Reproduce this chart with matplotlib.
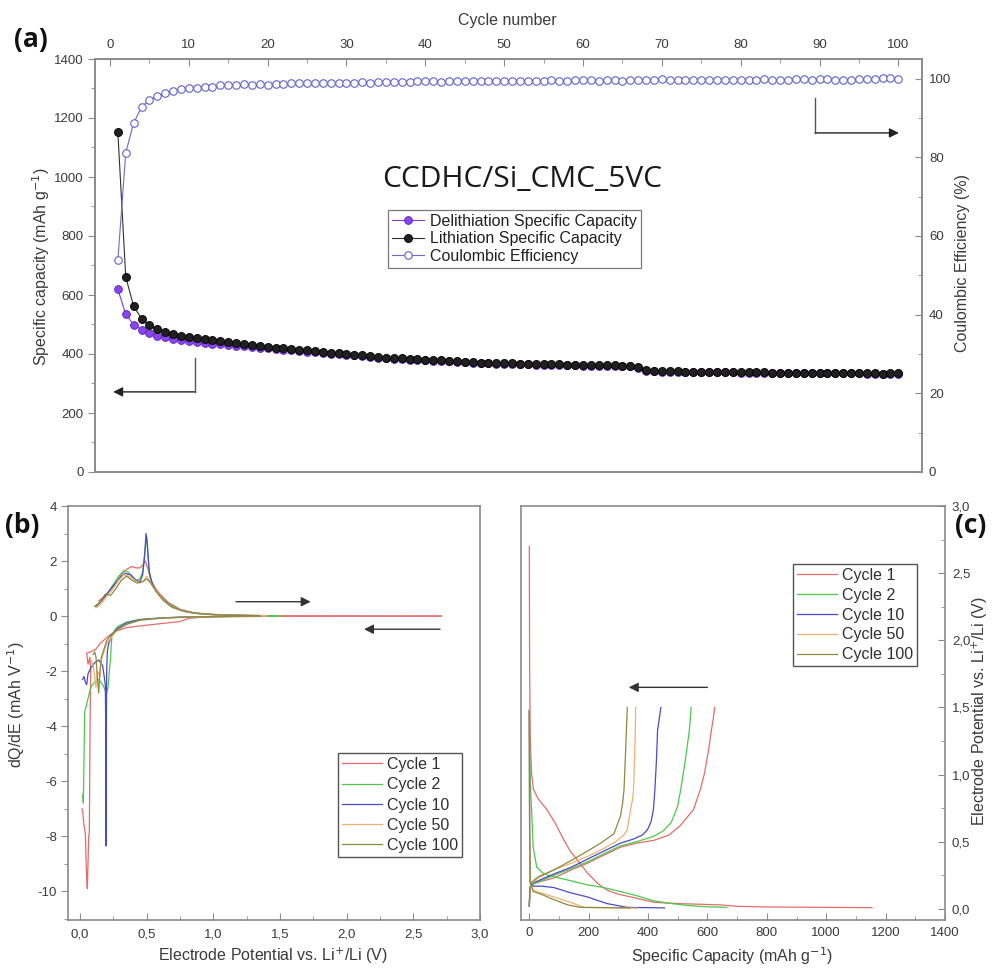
import matplotlib
matplotlib.use('Agg')
import matplotlib.pyplot as plt
from matplotlib.ticker import MultipleLocator, FixedLocator, FixedFormatter

plt.rcParams['font.family'] = ['Liberation Sans', 'DejaVu Sans']
plt.rcParams['axes.unicode_minus'] = False

# ---------------- data: panel (a) ----------------
cycles = list(range(1, 101))
lith_cap = [1151, 661, 562, 520, 497, 484, 474, 467, 462, 458,
            454, 450, 446, 443, 440, 437, 434, 431, 428, 425,
            422, 419, 416, 414, 412, 410, 408, 405, 402, 400,
            398, 396, 393, 390, 388, 386, 385, 384, 382, 381,
            380, 379, 377, 376, 374, 373, 371, 370, 369, 368,
            368, 367, 367, 366, 366, 365, 365, 364, 364, 363,
            363, 363, 362, 362, 361, 361, 356, 345, 342, 341,
            341, 341, 340, 340, 340, 339, 339, 339, 339, 338,
            338, 338, 338, 337, 337, 337, 337, 336, 336, 336,
            336, 335, 335, 335, 335, 334, 334, 332, 334, 334]
delith_cap = [619, 535, 499, 483, 470, 462, 456, 451, 447, 444,
              441, 438, 435, 433, 431, 428, 426, 424, 421, 419,
              417, 414, 412, 410, 408, 406, 404, 401, 399, 397,
              395, 393, 390, 387, 385, 383, 382, 381, 379, 378,
              377, 376, 375, 374, 372, 371, 369, 368, 367, 366,
              366, 365, 365, 364, 364, 363, 363, 362, 362, 361,
              361, 361, 360, 360, 359, 359, 354, 344, 341, 340,
              340, 340, 339, 339, 339, 338, 338, 338, 338, 337,
              337, 337, 337, 336, 336, 336, 336, 335, 335, 335,
              335, 334, 334, 334, 334, 333, 333, 331, 333, 333]
coul_eff = [53.8, 81.2, 88.7, 92.8, 94.6, 95.6, 96.3, 96.9, 97.3, 97.6,
            97.7, 97.8, 98.0, 98.3, 98.5, 98.4, 98.6, 98.4, 98.6, 98.5,
            98.7, 98.7, 98.8, 98.8, 98.9, 98.8, 99.0, 98.9, 99.0, 99.0,
            99.0, 99.1, 99.0, 99.1, 99.1, 99.2, 99.1, 99.2, 99.4, 99.4,
            99.3, 99.2, 99.4, 99.4, 99.5, 99.4, 99.4, 99.5, 99.4, 99.5,
            99.5, 99.4, 99.5, 99.5, 99.5, 99.6, 99.5, 99.4, 99.6, 99.6,
            99.6, 99.5, 99.6, 99.6, 99.5, 99.6, 99.6, 99.7, 99.7, 99.8,
            99.7, 99.6, 99.7, 99.7, 99.7, 99.7, 99.7, 99.6, 99.7, 99.7,
            99.7, 99.7, 99.8, 99.7, 99.7, 99.7, 99.8, 99.8, 99.7, 99.8,
            99.8, 99.7, 99.7, 99.7, 99.8, 99.8, 99.8, 100.2, 100.2, 100.0]

# ---------------- data: panel (b) dQ/dE ----------------
cycle_names = ['Cycle 1', 'Cycle 2', 'Cycle 10', 'Cycle 50', 'Cycle 100']
cycle_colors = ['#e46b6b', '#4cc84c', '#4a4ac8', '#f2b070', '#8a8a40']

b_chg_V = [
    [0.14, 0.18, 0.22, 0.27, 0.31, 0.35, 0.39, 0.42, 0.45, 0.47, 0.49, 0.51, 0.53, 0.56, 0.60, 0.66, 0.75, 0.85, 1.0, 1.2, 1.5, 2.0, 2.4, 2.71],
    [0.13, 0.17, 0.21, 0.25, 0.29, 0.33, 0.36, 0.39, 0.42, 0.45, 0.47, 0.485, 0.50, 0.515, 0.53, 0.56, 0.60, 0.66, 0.75, 0.85, 1.0, 1.2, 1.5],
    [0.12, 0.16, 0.20, 0.25, 0.30, 0.34, 0.38, 0.42, 0.45, 0.47, 0.485, 0.495, 0.505, 0.52, 0.54, 0.57, 0.62, 0.70, 0.80, 0.95, 1.15, 1.4],
    [0.12, 0.16, 0.20, 0.25, 0.29, 0.33, 0.37, 0.41, 0.45, 0.48, 0.50, 0.52, 0.55, 0.59, 0.64, 0.70, 0.80, 0.95, 1.15, 1.4],
    [0.11, 0.15, 0.19, 0.23, 0.27, 0.31, 0.35, 0.39, 0.43, 0.47, 0.50, 0.53, 0.57, 0.62, 0.68, 0.77, 0.90, 1.1, 1.35],
]
b_chg_dQ = [
    [0.55, 0.7, 0.9, 1.2, 1.5, 1.7, 1.8, 1.75, 1.75, 1.85, 2.0, 1.7, 1.35, 1.05, 0.8, 0.5, 0.25, 0.12, 0.06, 0.03, 0.01, 0.005, 0.0, 0.0],
    [0.4, 0.6, 0.85, 1.15, 1.45, 1.65, 1.6, 1.45, 1.3, 1.35, 1.6, 2.3, 2.9, 1.8, 1.3, 1.0, 0.75, 0.45, 0.22, 0.1, 0.05, 0.02, 0.0],
    [0.35, 0.55, 0.8, 1.1, 1.4, 1.55, 1.5, 1.3, 1.25, 1.5, 2.2, 3.0, 2.6, 1.6, 1.2, 0.9, 0.6, 0.3, 0.15, 0.06, 0.03, 0.01],
    [0.3, 0.45, 0.7, 1.0, 1.3, 1.5, 1.45, 1.3, 1.2, 1.3, 1.45, 1.3, 1.05, 0.8, 0.5, 0.3, 0.15, 0.06, 0.03, 0.01],
    [0.35, 0.5, 0.8, 0.75, 1.0, 1.3, 1.45, 1.3, 1.2, 1.25, 1.35, 1.2, 0.9, 0.6, 0.35, 0.18, 0.08, 0.03, 0.01],
]
b_dis_V = [
    [2.71, 2.0, 1.5, 1.0, 0.9, 0.82, 0.75, 0.6, 0.45, 0.35, 0.27, 0.22, 0.185, 0.15, 0.12, 0.08, 0.05, 0.06, 0.075, 0.08, 0.075, 0.07, 0.065, 0.06, 0.055, 0.05, 0.045, 0.04, 0.03, 0.02, 0.015],
    [1.5, 1.2, 1.0, 0.85, 0.72, 0.6, 0.45, 0.35, 0.29, 0.26, 0.24, 0.235, 0.23, 0.22, 0.21, 0.2, 0.17, 0.14, 0.11, 0.08, 0.06, 0.045, 0.035, 0.03, 0.025, 0.02],
    [1.4, 1.0, 0.8, 0.6, 0.45, 0.35, 0.28, 0.24, 0.215, 0.205, 0.20, 0.198, 0.196, 0.194, 0.19, 0.17, 0.14, 0.11, 0.08, 0.06, 0.05, 0.04, 0.03, 0.02],
    [1.4, 1.0, 0.8, 0.6, 0.45, 0.35, 0.28, 0.24, 0.20, 0.18, 0.16, 0.15, 0.13, 0.12, 0.11, 0.10, 0.09, 0.08],
    [1.35, 1.0, 0.8, 0.6, 0.45, 0.35, 0.28, 0.23, 0.20, 0.18, 0.16, 0.15, 0.14, 0.13, 0.12, 0.11, 0.10],
]
b_dis_dQ = [
    [0.0, -0.005, -0.01, -0.03, -0.05, -0.08, -0.2, -0.28, -0.36, -0.42, -0.55, -0.7, -0.85, -1.0, -1.2, -1.3, -1.35, -1.75, -1.5, -2.0, -4.2, -7.9, -8.0, -9.0, -9.9, -9.5, -8.8, -7.9, -7.6, -7.1, -7.0],
    [0.0, -0.01, -0.02, -0.03, -0.05, -0.08, -0.12, -0.22, -0.36, -0.5, -0.7, -1.0, -1.5, -2.0, -2.6, -2.8, -2.5, -2.3, -2.4, -2.6, -3.0, -3.3, -3.5, -5.2, -6.8, -6.5],
    [0.0, -0.02, -0.03, -0.07, -0.13, -0.25, -0.45, -0.7, -1.0, -1.3, -2.0, -4.0, -8.36, -4.5, -2.5, -1.8, -1.6, -1.7, -1.9, -2.1, -2.5, -2.4, -2.2, -2.3],
    [0.0, -0.02, -0.04, -0.08, -0.15, -0.3, -0.5, -0.75, -1.0, -1.3, -1.6, -2.2, -2.0, -2.6, -2.2, -1.8, -1.7, -1.6],
    [0.0, -0.02, -0.04, -0.08, -0.15, -0.3, -0.5, -0.7, -0.9, -1.2, -1.5, -2.0, -2.8, -2.2, -1.5, -1.3, -1.4],
]

# ---------------- data: panel (c) galvanostatic ----------------
c_dis_Q = [
    [0, 1, 3, 5, 8, 14, 30, 59, 87, 115, 138, 160, 195, 230, 262, 300, 341, 380, 420, 500, 580, 646, 700, 800, 1000, 1154],
    [0, 1, 3, 5, 8, 13, 25, 50, 82, 140, 195, 250, 307, 360, 420, 480, 533, 600, 665],
    [0, 1, 3, 13, 40, 82, 140, 195, 262, 330, 400, 455],
    [0, 1, 3, 13, 40, 82, 138, 184, 250, 300, 365],
    [0, 1, 3, 13, 40, 82, 130, 172, 250, 340],
]
c_dis_V = [
    [2.70, 1.80, 1.30, 1.15, 1.00, 0.89, 0.82, 0.74, 0.64, 0.52, 0.43, 0.37, 0.27, 0.19, 0.14, 0.11, 0.09, 0.07, 0.05, 0.04, 0.035, 0.03, 0.02, 0.015, 0.012, 0.01],
    [1.48, 1.2, 1.0, 0.85, 0.72, 0.46, 0.31, 0.26, 0.24, 0.21, 0.18, 0.16, 0.13, 0.10, 0.06, 0.04, 0.026, 0.016, 0.012],
    [1.48, 0.6, 0.2, 0.17, 0.17, 0.16, 0.12, 0.09, 0.04, 0.012, 0.01, 0.008],
    [1.48, 0.6, 0.2, 0.14, 0.12, 0.09, 0.05, 0.012, 0.01, 0.008, 0.006],
    [1.47, 0.6, 0.2, 0.13, 0.11, 0.07, 0.03, 0.012, 0.01, 0.008],
]
c_chg_Q = [
    [0, 2, 8, 30, 82, 140, 195, 250, 307, 360, 418, 470, 508, 553, 576, 590, 605, 613, 620, 624],
    [0, 2, 8, 30, 82, 140, 195, 250, 307, 360, 418, 450, 477, 499, 510, 525, 539, 545],
    [0, 2, 8, 30, 82, 140, 195, 250, 307, 350, 380, 398, 410, 418, 423, 428, 432, 443],
    [0, 2, 8, 30, 82, 140, 195, 250, 290, 318, 330, 341, 348, 351, 354, 357, 358],
    [0, 2, 8, 30, 82, 140, 195, 240, 285, 307, 315, 319, 323, 327, 330],
]
c_chg_V = [
    [0.02, 0.15, 0.19, 0.20, 0.23, 0.29, 0.34, 0.40, 0.46, 0.49, 0.51, 0.55, 0.62, 0.74, 0.89, 1.01, 1.2, 1.33, 1.42, 1.50],
    [0.02, 0.14, 0.18, 0.20, 0.25, 0.30, 0.35, 0.41, 0.47, 0.50, 0.54, 0.58, 0.64, 0.76, 0.89, 1.1, 1.33, 1.50],
    [0.02, 0.15, 0.19, 0.21, 0.26, 0.31, 0.37, 0.43, 0.49, 0.52, 0.55, 0.59, 0.65, 0.74, 0.89, 1.1, 1.33, 1.50],
    [0.02, 0.15, 0.19, 0.23, 0.29, 0.34, 0.39, 0.45, 0.50, 0.55, 0.59, 0.74, 0.82, 0.89, 1.1, 1.33, 1.50],
    [0.02, 0.16, 0.20, 0.24, 0.29, 0.36, 0.43, 0.49, 0.56, 0.69, 0.80, 0.89, 1.1, 1.33, 1.50],
]

# tick labels
a_top_ticks = [0, 10, 20, 30, 40, 50, 60, 70, 80, 90, 100]
a_left_ticks = [0, 200, 400, 600, 800, 1000, 1200, 1400]
a_right_ticks = [0, 20, 40, 60, 80, 100]
b_x_ticks = [0.0, 0.5, 1.0, 1.5, 2.0, 2.5, 3.0]
b_x_labels = ['0,0', '0,5', '1,0', '1,5', '2,0', '2,5', '3,0']
b_y_ticks = [-10, -8, -6, -4, -2, 0, 2, 4]
c_x_ticks = [0, 200, 400, 600, 800, 1000, 1200, 1400]
c_y_ticks = [0.0, 0.5, 1.0, 1.5, 2.0, 2.5, 3.0]
c_y_labels = ['0,0', '0,5', '1,0', '1,5', '2,0', '2,5', '3,0']

# ---------------- styling helpers ----------------
W, H = 992, 968
SPINE = '#8a8a8a'
TXT = '#3a3a3a'
TICKFS = 9.5
LABFS = 11.5

def fx(px):
    return px / W

def fy(py):
    return 1 - py / H

def style_spines(ax):
    for s in ax.spines.values():
        s.set_color(SPINE)
        s.set_linewidth(1.2)

fig = plt.figure(figsize=(W / 100, H / 100), dpi=100)

# ================= panel (a) =================
ax = fig.add_axes([fx(95), fy(472), fx(922) - fx(95), fy(59) - fy(472)])
ax2 = ax.twinx()
style_spines(ax)
style_spines(ax2)

ax.plot(cycles, delith_cap, '-', color='#7a3ce0', lw=0.8, marker='o', ms=5.6,
        mfc='#8a45f0', mec='#5a20b0', mew=0.6, zorder=3, label='Delithiation Specific Capacity')
ax.plot(cycles, lith_cap, '-', color='#303030', lw=0.8, marker='o', ms=5.8,
        mfc='#202020', mec='#000000', mew=0.6, zorder=4, label='Lithiation Specific Capacity')
ax2.plot(cycles, coul_eff, '-', color='#6a6ad0', lw=0.8, marker='o', ms=5.4,
         mfc='white', mec='#6060cc', mew=0.8, zorder=3, label='Coulombic Efficiency')

ax.set_xlim(-1.9, 103)
ax.set_ylim(0, 1400)
ax2.set_ylim(0, 105)
ax.xaxis.tick_top()
ax.xaxis.set_major_locator(FixedLocator(a_top_ticks))
ax.xaxis.set_minor_locator(MultipleLocator(5))
ax.yaxis.set_major_locator(FixedLocator(a_left_ticks))
ax.yaxis.set_minor_locator(MultipleLocator(100))
ax2.yaxis.set_major_locator(FixedLocator(a_right_ticks))
ax2.yaxis.set_minor_locator(MultipleLocator(10))
ax.tick_params(axis='x', which='both', direction='in', colors=SPINE, labelcolor=TXT,
               labelsize=TICKFS, pad=6, top=True, bottom=False)
ax.tick_params(axis='x', which='major', length=5)
ax.tick_params(axis='x', which='minor', length=3)
ax.tick_params(axis='y', which='both', direction='out', colors=SPINE, labelcolor=TXT,
               labelsize=TICKFS, pad=3)
ax.tick_params(axis='y', which='major', length=5)
ax.tick_params(axis='y', which='minor', length=3)
ax2.tick_params(axis='y', which='both', direction='in', colors=SPINE, labelcolor=TXT,
                labelsize=TICKFS, pad=5)
ax2.tick_params(axis='y', which='major', length=5)
ax2.tick_params(axis='y', which='minor', length=3)

h1, l1 = ax.get_legend_handles_labels()
h2, l2 = ax2.get_legend_handles_labels()
leg = ax2.legend(h1 + h2, l1 + l2, loc='upper left',
                 bbox_to_anchor=(fx(388), fy(210)), bbox_transform=fig.transFigure,
                 fontsize=11.5, frameon=True, fancybox=False, framealpha=1,
                 edgecolor='#7a7a7a', handlelength=2.0, handletextpad=0.4,
                 borderpad=0.25, labelspacing=0.15, borderaxespad=0)
leg.get_frame().set_linewidth(0.9)
for t in leg.get_texts():
    t.set_color('#202020')

fig.text(fx(522), fy(180), 'CCDHC/Si_CMC_5VC', fontsize=21.5, family=['Open Sans', 'DejaVu Sans'],
         ha='center', va='center', color='#1a1a1a')

# L-shaped arrows (panel a)
ax.plot([0.121, 0.121], [0.276, 0.194], transform=ax.transAxes, color='#555555', lw=1.0, zorder=5)
ax.annotate('', xy=(0.022, 0.194), xytext=(0.1215, 0.194), xycoords='axes fraction',
            arrowprops=dict(arrowstyle='-|>', color='#222222', lw=1.0, mutation_scale=14,
                            shrinkA=0, shrinkB=0))
ax.plot([0.871, 0.871], [0.906, 0.821], transform=ax.transAxes, color='#555555', lw=1.0, zorder=5)
ax.annotate('', xy=(0.972, 0.821), xytext=(0.8705, 0.821), xycoords='axes fraction',
            arrowprops=dict(arrowstyle='-|>', color='#222222', lw=1.0, mutation_scale=14,
                            shrinkA=0, shrinkB=0))

fig.text(fx(507), fy(21), 'Cycle number', fontsize=LABFS, ha='center', va='center', color=TXT)
fig.text(fx(41), fy(267), 'Specific capacity (mAh g$^{-1}$)', fontsize=LABFS, rotation=90,
         ha='center', va='center', color=TXT)
fig.text(fx(963), fy(263), 'Coulombic Efficiency (%)', fontsize=LABFS, rotation=90,
         ha='center', va='center', color=TXT)
fig.text(fx(14), fy(40), '(a)', fontsize=19, fontweight='bold',
         family=['Open Sans', 'DejaVu Sans'], ha='left', va='center', color='#111111')

# ================= panel (b) =================
bx = fig.add_axes([fx(68), fy(920), fx(480) - fx(68), fy(506) - fy(920)])
style_spines(bx)
for i in range(5):
    bx.plot(b_chg_V[i], b_chg_dQ[i], color=cycle_colors[i], lw=0.9, label=cycle_names[i])
    bx.plot(b_dis_V[i], b_dis_dQ[i], color=cycle_colors[i], lw=0.9)
bx.set_xlim(-0.09, 3.0)
bx.set_ylim(-11.05, 4)
bx.xaxis.set_major_locator(FixedLocator(b_x_ticks))
bx.xaxis.set_major_formatter(FixedFormatter(b_x_labels))
bx.xaxis.set_minor_locator(MultipleLocator(0.25))
bx.yaxis.set_major_locator(FixedLocator(b_y_ticks))
bx.yaxis.set_minor_locator(MultipleLocator(1))
bx.tick_params(axis='x', which='both', direction='in', colors=SPINE, labelcolor=TXT,
               labelsize=TICKFS, pad=6)
bx.tick_params(axis='y', which='both', direction='out', colors=SPINE, labelcolor=TXT,
               labelsize=TICKFS, pad=3)
bx.tick_params(which='major', length=5)
bx.tick_params(which='minor', length=3)
legb = bx.legend(loc='upper left', bbox_to_anchor=(fx(338), fy(753)), bbox_transform=fig.transFigure,
                 fontsize=11.5, frameon=True, fancybox=False, framealpha=1, edgecolor='#555555',
                 handlelength=2.5, handletextpad=0.3, borderpad=0.25, labelspacing=0.33,
                 borderaxespad=0)
legb.get_frame().set_linewidth(1.0)
for t in legb.get_texts():
    t.set_color('#303030')
bx.annotate('', xy=(1.73, 0.52), xytext=(1.17, 0.52),
            arrowprops=dict(arrowstyle='-|>', color='#333333', lw=1.0, mutation_scale=14,
                            shrinkA=0, shrinkB=0))
bx.annotate('', xy=(2.13, -0.48), xytext=(2.70, -0.48),
            arrowprops=dict(arrowstyle='-|>', color='#333333', lw=1.0, mutation_scale=14,
                            shrinkA=0, shrinkB=0))
fig.text(fx(273), fy(956), 'Electrode Potential vs. Li$^{+}$/Li (V)', fontsize=LABFS,
         ha='center', va='center', color=TXT)
fig.text(fx(16), fy(705), 'dQ/dE (mAh V$^{-1}$)', fontsize=LABFS, rotation=90,
         ha='center', va='center', color=TXT)
fig.text(fx(5), fy(525), '(b)', fontsize=19, fontweight='bold',
         family=['Open Sans', 'DejaVu Sans'], ha='left', va='center', color='#111111')

# ================= panel (c) =================
cx = fig.add_axes([fx(521), fy(920), fx(945) - fx(521), fy(506) - fy(920)])
style_spines(cx)
for i in range(5):
    cx.plot(c_dis_Q[i], c_dis_V[i], color=cycle_colors[i], lw=0.9, label=cycle_names[i])
    cx.plot(c_chg_Q[i], c_chg_V[i], color=cycle_colors[i], lw=0.9)
cx.set_xlim(-28, 1400)
cx.set_ylim(-0.082, 3.0)
cx.yaxis.tick_right()
cx.xaxis.set_major_locator(FixedLocator(c_x_ticks))
cx.xaxis.set_minor_locator(MultipleLocator(100))
cx.yaxis.set_major_locator(FixedLocator(c_y_ticks))
cx.yaxis.set_major_formatter(FixedFormatter(c_y_labels))
cx.yaxis.set_minor_locator(MultipleLocator(0.25))
cx.tick_params(axis='both', which='both', direction='in', colors=SPINE, labelcolor=TXT,
               labelsize=TICKFS, pad=5)
cx.tick_params(which='major', length=5)
cx.tick_params(which='minor', length=3)
legc = cx.legend(loc='upper left', bbox_to_anchor=(fx(793), fy(564)), bbox_transform=fig.transFigure,
                 fontsize=11.5, frameon=True, fancybox=False, framealpha=1, edgecolor='#555555',
                 handlelength=2.5, handletextpad=0.3, borderpad=0.25, labelspacing=0.3,
                 borderaxespad=0)
legc.get_frame().set_linewidth(1.0)
for t in legc.get_texts():
    t.set_color('#303030')
cx.annotate('', xy=(335, 1.65), xytext=(600, 1.65),
            arrowprops=dict(arrowstyle='-|>', color='#333333', lw=1.0, mutation_scale=14,
                            shrinkA=0, shrinkB=0))
fig.text(fx(732), fy(956), 'Specific Capacity (mAh g$^{-1}$)', fontsize=LABFS,
         ha='center', va='center', color=TXT)
fig.text(fx(980), fy(711), 'Electrode Potential vs. Li$^{+}$/Li (V)', fontsize=LABFS, rotation=90,
         ha='center', va='center', color=TXT)
fig.text(fx(955), fy(526), '(c)', fontsize=19, fontweight='bold',
         family=['Open Sans', 'DejaVu Sans'], ha='left', va='center', color='#111111')

fig.savefig('out.png', dpi=100)
